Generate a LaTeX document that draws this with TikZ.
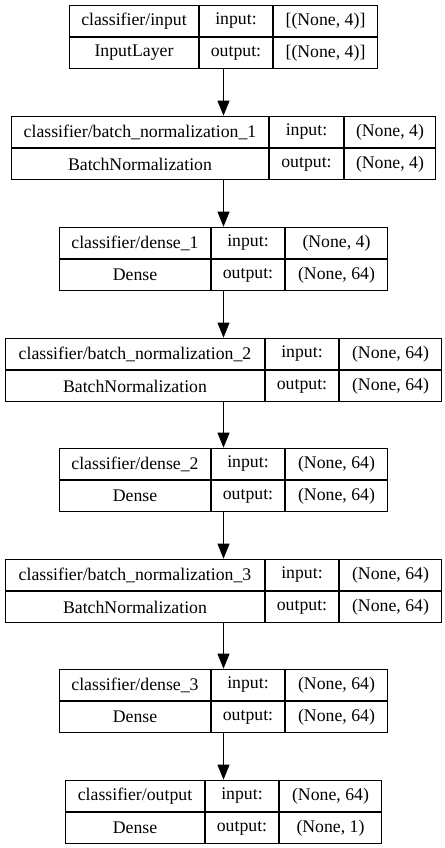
\documentclass[tikz,border=0pt]{standalone}
\usepackage{fontspec}
\setmainfont{Liberation Serif}
\newfontfamily\cellfont{Liberation Serif}
\usepackage{tikz}
\usetikzlibrary{arrows.meta,positioning,fit}

% one layer of the model: #1 name, #2 top (px), #3-#5 cell widths (px),
% #6 layer name, #7 layer class, #8 input shape, #9 output shape
\newcommand{\kerasbox}[9]{%
    \pgfmathsetmacro{\bx}{222-(#3+#4+#5)/2}
    \node[cell, minimum width=#3*0.02cm] (#1-name) at (\bx,#2) {#6};
    \node[cell, minimum width=#4*0.02cm] (#1-in) at (#1-name.north east) {input:};
    \node[cell, minimum width=#5*0.02cm] (#1-inv) at (#1-in.north east) {#8};
    \node[cell, minimum width=#3*0.02cm] (#1-cls) at (#1-name.south west) {#7};
    \node[cell, minimum width=#4*0.02cm] (#1-out) at (#1-cls.north east) {output:};
    \node[cell, minimum width=#5*0.02cm] (#1-outv) at (#1-out.north east) {#9};
    \node[fit=(#1-name)(#1-outv), inner sep=0pt] (#1) {};
}

\begin{document}
\begin{tikzpicture}[
    x=0.02cm, y=-0.02cm,
    cell/.style={rectangle, draw=black, line width=0.02cm, inner sep=0pt,
        minimum height=31*0.02cm, anchor=north west,
        font=\cellfont\fontsize{10.1pt}{12pt}\selectfont},
    arr/.style={-{Triangle[length=0.3cm, width=0.24cm]}, line width=0.02cm, black}
]
    \useasboundingbox (0,0) rectangle (444,848);

    \kerasbox{in}{5}{129}{73}{104}{classifier/input}{InputLayer}{[(None, 4)]}{[(None, 4)]}
    \kerasbox{bn1}{116}{257}{74}{91}{classifier/batch\_normalization\_1}{BatchNormalization}{(None, 4)}{(None, 4)}
    \kerasbox{d1}{227}{151}{73}{102}{classifier/dense\_1}{Dense}{(None, 4)}{(None, 64)}
    \kerasbox{bn2}{338}{259}{73}{102}{classifier/batch\_normalization\_2}{BatchNormalization}{(None, 64)}{(None, 64)}
    \kerasbox{d2}{448}{151}{73}{102}{classifier/dense\_2}{Dense}{(None, 64)}{(None, 64)}
    \kerasbox{bn3}{559}{259}{73}{102}{classifier/batch\_normalization\_3}{BatchNormalization}{(None, 64)}{(None, 64)}
    \kerasbox{d3}{669}{151}{73}{102}{classifier/dense\_3}{Dense}{(None, 64)}{(None, 64)}
    \kerasbox{out}{780}{139}{73}{102}{classifier/output}{Dense}{(None, 64)}{(None, 1)}

    \draw[arr] (in) -- (bn1);
    \draw[arr] (bn1) -- (d1);
    \draw[arr] (d1) -- (bn2);
    \draw[arr] (bn2) -- (d2);
    \draw[arr] (d2) -- (bn3);
    \draw[arr] (bn3) -- (d3);
    \draw[arr] (d3) -- (out);
\end{tikzpicture}
\end{document}
